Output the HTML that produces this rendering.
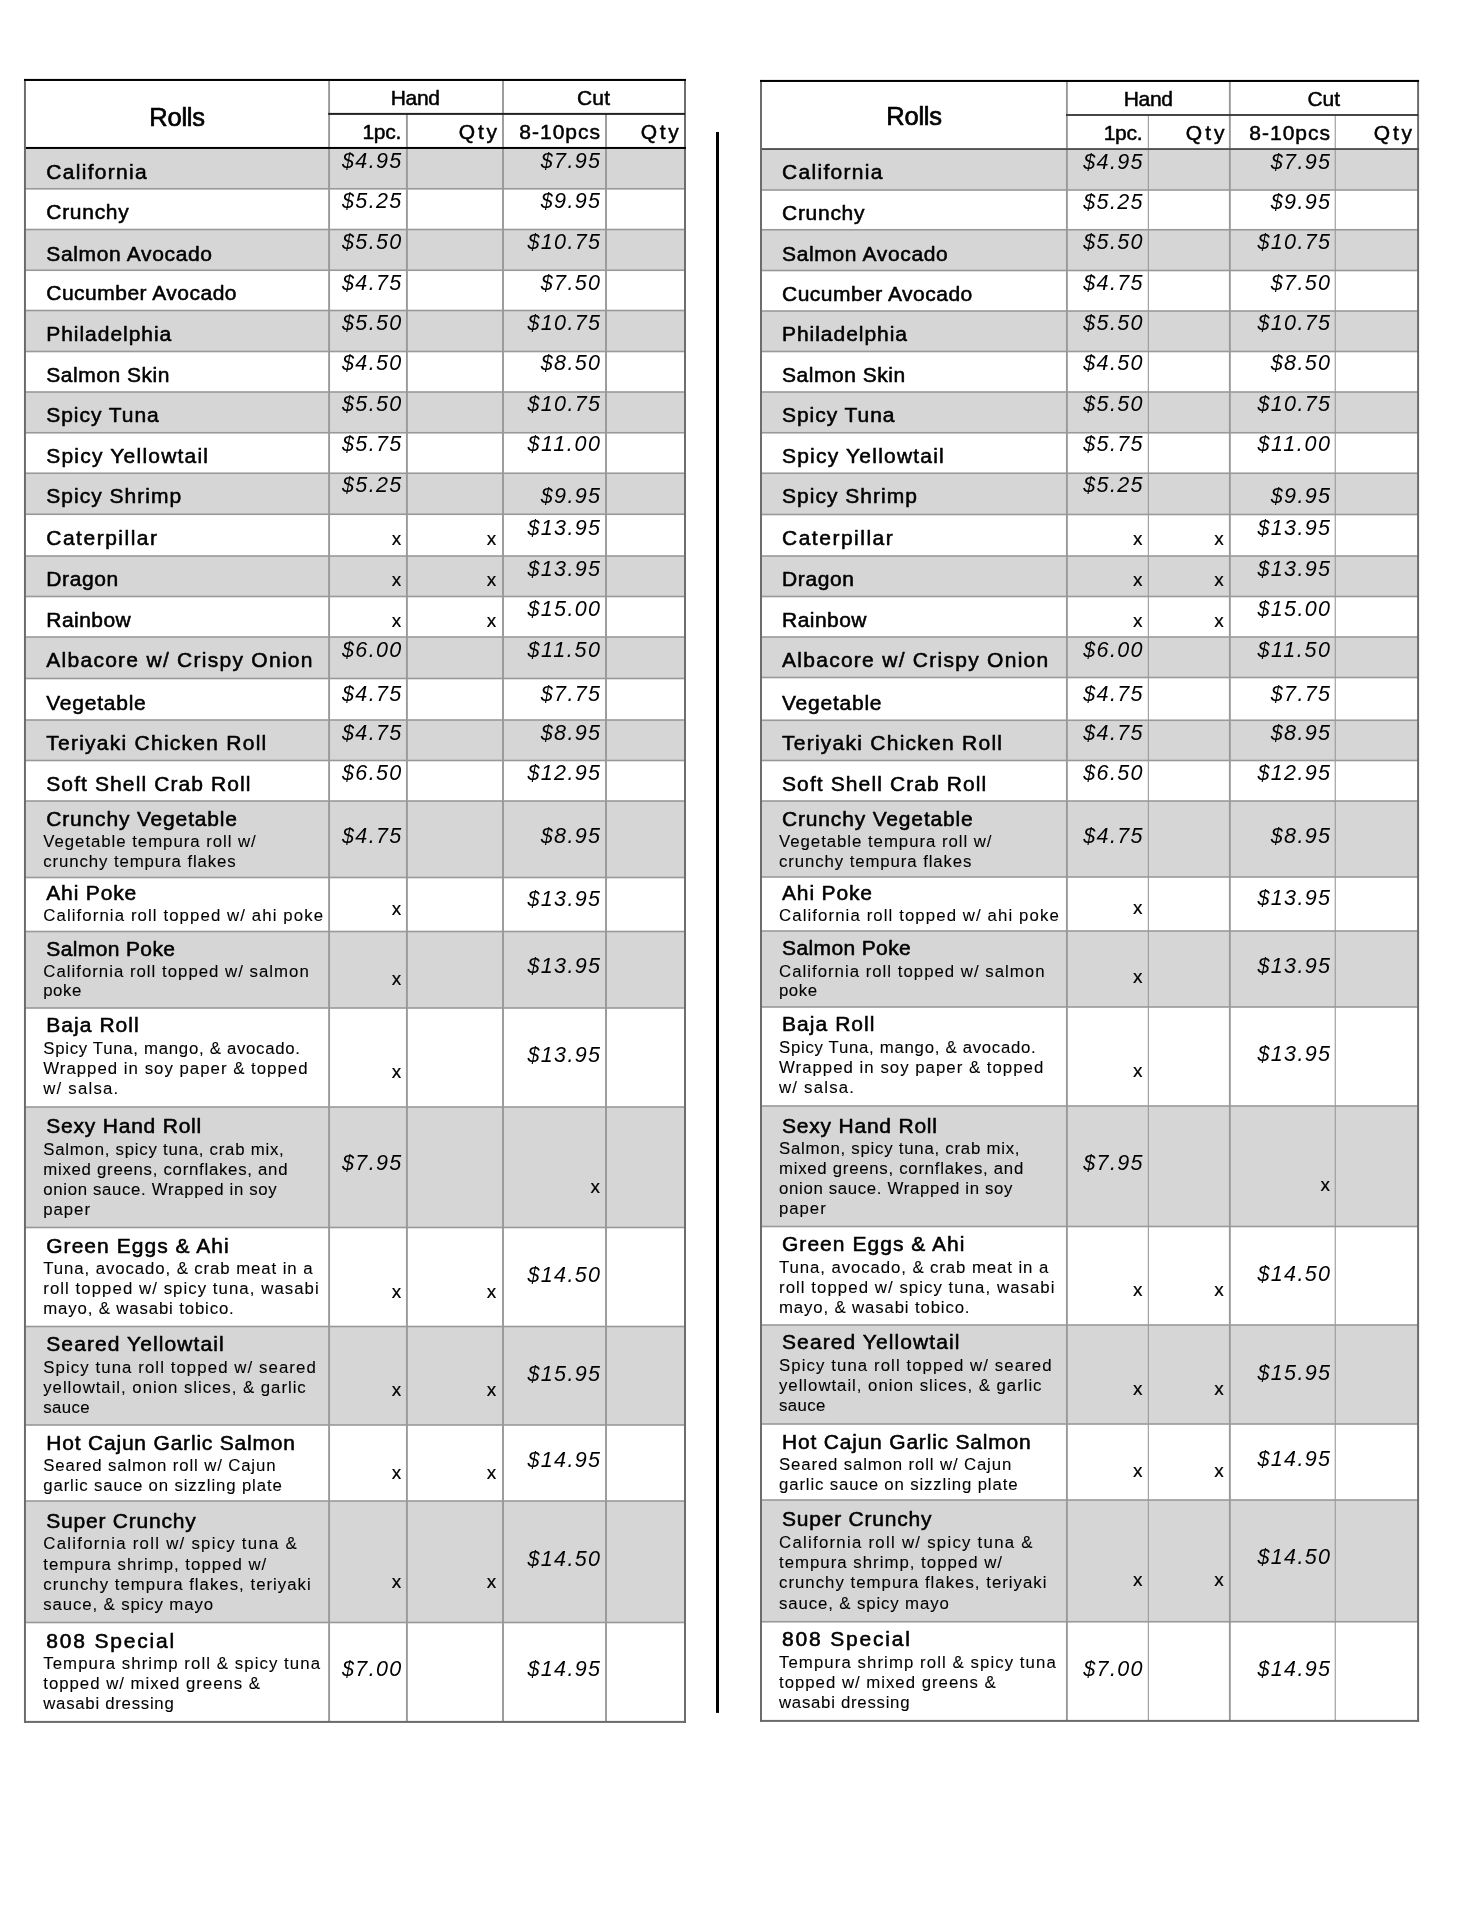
<!DOCTYPE html>
<html lang="en">
<head>
<meta charset="utf-8">
<title>Rolls order sheet</title>
<style>
html,body{margin:0;padding:0;background:#fff;}
body{width:1484px;height:1920px;overflow:hidden;}
svg{display:block;filter:grayscale(1);}
text{font-family:"Liberation Sans",sans-serif;fill:#000;white-space:pre;}
text{stroke:#000;stroke-linejoin:round;}
.nm{font-size:21.0px;stroke-width:0.55px;}
.ds{font-size:16.8px;stroke-width:0.1px;}
.pr{font-size:21.5px;font-style:italic;stroke-width:0;}
.xm{font-size:19.0px;stroke-width:0.2px;}
.hd{font-size:21.0px;stroke-width:0.5px;}
.rolls{font-size:25.5px;stroke-width:0.7px;}
</style>
</head>
<body>
<svg width="1484" height="1920" viewBox="0 0 1484 1920">
<rect x="0" y="0" width="1484" height="1920" fill="#fff"/>
<g>
<rect x="24.95" y="147.95" width="660.05" height="40.85" fill="#d6d6d6"/>
<rect x="24.95" y="229.50" width="660.05" height="40.75" fill="#d6d6d6"/>
<rect x="24.95" y="310.50" width="660.05" height="41.00" fill="#d6d6d6"/>
<rect x="24.95" y="392.00" width="660.05" height="40.75" fill="#d6d6d6"/>
<rect x="24.95" y="473.25" width="660.05" height="41.00" fill="#d6d6d6"/>
<rect x="24.95" y="556.00" width="660.05" height="40.50" fill="#d6d6d6"/>
<rect x="24.95" y="637.00" width="660.05" height="41.50" fill="#d6d6d6"/>
<rect x="24.95" y="720.00" width="660.05" height="40.50" fill="#d6d6d6"/>
<rect x="24.95" y="801.00" width="660.05" height="76.50" fill="#d6d6d6"/>
<rect x="24.95" y="931.50" width="660.05" height="76.50" fill="#d6d6d6"/>
<rect x="24.95" y="1107.00" width="660.05" height="120.50" fill="#d6d6d6"/>
<rect x="24.95" y="1326.50" width="660.05" height="98.50" fill="#d6d6d6"/>
<rect x="24.95" y="1501.00" width="660.05" height="121.50" fill="#d6d6d6"/>
<rect x="24.95" y="188.00" width="660.05" height="1.60" fill="#999999"/>
<rect x="24.95" y="228.70" width="660.05" height="1.60" fill="#999999"/>
<rect x="24.95" y="269.45" width="660.05" height="1.60" fill="#999999"/>
<rect x="24.95" y="309.70" width="660.05" height="1.60" fill="#999999"/>
<rect x="24.95" y="350.70" width="660.05" height="1.60" fill="#999999"/>
<rect x="24.95" y="391.20" width="660.05" height="1.60" fill="#999999"/>
<rect x="24.95" y="431.95" width="660.05" height="1.60" fill="#999999"/>
<rect x="24.95" y="472.45" width="660.05" height="1.60" fill="#999999"/>
<rect x="24.95" y="513.45" width="660.05" height="1.60" fill="#999999"/>
<rect x="24.95" y="555.20" width="660.05" height="1.60" fill="#999999"/>
<rect x="24.95" y="595.70" width="660.05" height="1.60" fill="#999999"/>
<rect x="24.95" y="636.20" width="660.05" height="1.60" fill="#999999"/>
<rect x="24.95" y="677.70" width="660.05" height="1.60" fill="#999999"/>
<rect x="24.95" y="719.20" width="660.05" height="1.60" fill="#999999"/>
<rect x="24.95" y="759.70" width="660.05" height="1.60" fill="#999999"/>
<rect x="24.95" y="800.20" width="660.05" height="1.60" fill="#999999"/>
<rect x="24.95" y="876.70" width="660.05" height="1.60" fill="#999999"/>
<rect x="24.95" y="930.70" width="660.05" height="1.60" fill="#999999"/>
<rect x="24.95" y="1007.20" width="660.05" height="1.60" fill="#999999"/>
<rect x="24.95" y="1106.20" width="660.05" height="1.60" fill="#999999"/>
<rect x="24.95" y="1226.70" width="660.05" height="1.60" fill="#999999"/>
<rect x="24.95" y="1325.70" width="660.05" height="1.60" fill="#999999"/>
<rect x="24.95" y="1424.20" width="660.05" height="1.60" fill="#999999"/>
<rect x="24.95" y="1500.20" width="660.05" height="1.60" fill="#999999"/>
<rect x="24.95" y="1621.70" width="660.05" height="1.60" fill="#999999"/>
<rect x="328.15" y="79.95" width="1.90" height="1641.95" fill="#999999"/>
<rect x="405.95" y="113.90" width="1.90" height="1608.00" fill="#999999"/>
<rect x="502.05" y="79.95" width="1.90" height="1641.95" fill="#999999"/>
<rect x="605.05" y="113.90" width="1.90" height="1608.00" fill="#999999"/>
<rect x="23.97" y="78.95" width="1.95" height="1643.95" fill="#6a6a6a"/>
<rect x="684.02" y="78.95" width="1.95" height="1643.95" fill="#6a6a6a"/>
<rect x="24.00" y="1720.90" width="661.95" height="2.00" fill="#6a6a6a"/>
<rect x="24.00" y="78.92" width="661.95" height="2.05" fill="#000"/>
<rect x="328.20" y="112.90" width="356.80" height="2.00" fill="#222"/>
<rect x="25.85" y="146.95" width="660.10" height="2.00" fill="#000"/>
</g>
<g>
<text class="rolls" x="149.25" y="125.50" textLength="55.75">Rolls</text>
<text class="hd" x="390.75" y="105.00" textLength="49.25">Hand</text>
<text class="hd" x="577.00" y="105.00" textLength="33.00">Cut</text>
<text class="hd" x="362.50" y="138.75" textLength="38.75">1pc.</text>
<text class="hd" x="458.75" y="138.75" textLength="38.25">Qty</text>
<text class="hd" x="519.25" y="138.75" textLength="80.75">8-10pcs</text>
<text class="hd" x="640.75" y="138.75" textLength="38.00">Qty</text>
</g>
<g>
<text class="nm" x="46.25" y="179.25" textLength="100.50">California</text>
<text class="pr" x="342.00" y="167.50" textLength="59.25">$4.95</text>
<text class="pr" x="540.75" y="167.50" textLength="59.25">$7.95</text>
</g>
<g>
<text class="nm" x="46.25" y="219.25" textLength="82.50">Crunchy</text>
<text class="pr" x="342.00" y="208.25" textLength="59.25">$5.25</text>
<text class="pr" x="540.75" y="208.25" textLength="59.25">$9.95</text>
</g>
<g>
<text class="nm" x="46.25" y="260.50" textLength="165.75">Salmon Avocado</text>
<text class="pr" x="342.00" y="248.75" textLength="59.25">$5.50</text>
<text class="pr" x="527.50" y="248.75" textLength="72.50">$10.75</text>
</g>
<g>
<text class="nm" x="46.25" y="300.00" textLength="190.25">Cucumber Avocado</text>
<text class="pr" x="342.00" y="289.50" textLength="59.25">$4.75</text>
<text class="pr" x="540.75" y="289.50" textLength="59.25">$7.50</text>
</g>
<g>
<text class="nm" x="46.25" y="340.75" textLength="125.00">Philadelphia</text>
<text class="pr" x="342.00" y="330.00" textLength="59.25">$5.50</text>
<text class="pr" x="527.50" y="330.00" textLength="72.50">$10.75</text>
</g>
<g>
<text class="nm" x="46.25" y="381.75" textLength="123.25">Salmon Skin</text>
<text class="pr" x="342.00" y="370.00" textLength="59.25">$4.50</text>
<text class="pr" x="540.75" y="370.00" textLength="59.25">$8.50</text>
</g>
<g>
<text class="nm" x="46.25" y="422.00" textLength="112.50">Spicy Tuna</text>
<text class="pr" x="342.00" y="410.75" textLength="59.25">$5.50</text>
<text class="pr" x="527.50" y="410.75" textLength="72.50">$10.75</text>
</g>
<g>
<text class="nm" x="46.25" y="462.50" textLength="161.75">Spicy Yellowtail</text>
<text class="pr" x="342.00" y="451.25" textLength="59.25">$5.75</text>
<text class="pr" x="527.50" y="451.25" textLength="72.50">$11.00</text>
</g>
<g>
<text class="nm" x="46.25" y="503.00" textLength="135.00">Spicy Shrimp</text>
<text class="pr" x="342.00" y="492.00" textLength="59.25">$5.25</text>
<text class="pr" x="540.75" y="502.50" textLength="59.25">$9.95</text>
</g>
<g>
<text class="nm" x="46.25" y="544.75" textLength="110.75">Caterpillar</text>
<text class="xm" x="391.75" y="544.50">x</text>
<text class="xm" x="486.75" y="544.50">x</text>
<text class="pr" x="527.50" y="534.50" textLength="72.50">$13.95</text>
</g>
<g>
<text class="nm" x="46.25" y="585.75" textLength="72.00">Dragon</text>
<text class="xm" x="391.75" y="585.75">x</text>
<text class="xm" x="486.75" y="585.75">x</text>
<text class="pr" x="527.50" y="575.50" textLength="72.50">$13.95</text>
</g>
<g>
<text class="nm" x="46.25" y="626.50" textLength="84.50">Rainbow</text>
<text class="xm" x="391.75" y="626.50">x</text>
<text class="xm" x="486.75" y="626.50">x</text>
<text class="pr" x="527.50" y="615.50" textLength="72.50">$15.00</text>
</g>
<g>
<text class="nm" x="46.25" y="667.00" textLength="266.25">Albacore w/ Crispy Onion</text>
<text class="pr" x="342.00" y="657.00" textLength="59.25">$6.00</text>
<text class="pr" x="527.50" y="657.00" textLength="72.50">$11.50</text>
</g>
<g>
<text class="nm" x="46.25" y="710.00" textLength="99.50">Vegetable</text>
<text class="pr" x="342.00" y="700.75" textLength="59.25">$4.75</text>
<text class="pr" x="540.75" y="700.75" textLength="59.25">$7.75</text>
</g>
<g>
<text class="nm" x="46.25" y="750.00" textLength="220.00">Teriyaki Chicken Roll</text>
<text class="pr" x="342.00" y="740.00" textLength="59.25">$4.75</text>
<text class="pr" x="540.75" y="740.00" textLength="59.25">$8.95</text>
</g>
<g>
<text class="nm" x="46.25" y="790.50" textLength="204.25">Soft Shell Crab Roll</text>
<text class="pr" x="342.00" y="779.50" textLength="59.25">$6.50</text>
<text class="pr" x="527.50" y="779.50" textLength="72.50">$12.95</text>
</g>
<g>
<text class="nm" x="46.25" y="825.75" textLength="190.75">Crunchy Vegetable</text>
<text class="ds" x="43.25" y="847.00" textLength="212.50">Vegetable tempura roll w/</text>
<text class="ds" x="43.25" y="866.50" textLength="192.50">crunchy tempura flakes</text>
<text class="pr" x="342.00" y="842.50" textLength="59.25">$4.75</text>
<text class="pr" x="540.75" y="842.50" textLength="59.25">$8.95</text>
</g>
<g>
<text class="nm" x="46.25" y="899.50" textLength="90.00">Ahi Poke</text>
<text class="ds" x="43.25" y="920.75" textLength="279.75">California roll topped w/ ahi poke</text>
<text class="xm" x="391.75" y="914.50">x</text>
<text class="pr" x="527.50" y="905.50" textLength="72.50">$13.95</text>
</g>
<g>
<text class="nm" x="46.25" y="955.50" textLength="128.75">Salmon Poke</text>
<text class="ds" x="43.25" y="976.50" textLength="265.50">California roll topped w/ salmon</text>
<text class="ds" x="43.25" y="996.25" textLength="38.00">poke</text>
<text class="xm" x="391.75" y="984.50">x</text>
<text class="pr" x="527.50" y="972.50" textLength="72.50">$13.95</text>
</g>
<g>
<text class="nm" x="46.25" y="1032.00" textLength="92.50">Baja Roll</text>
<text class="ds" x="43.25" y="1053.75" textLength="256.75">Spicy Tuna, mango, &amp; avocado.</text>
<text class="ds" x="43.25" y="1073.75" textLength="264.25">Wrapped in soy paper &amp; topped</text>
<text class="ds" x="43.25" y="1093.75" textLength="75.00">w/ salsa.</text>
<text class="xm" x="391.75" y="1077.50">x</text>
<text class="pr" x="527.50" y="1062.00" textLength="72.50">$13.95</text>
</g>
<g>
<text class="nm" x="46.25" y="1133.25" textLength="155.00">Sexy Hand Roll</text>
<text class="ds" x="43.25" y="1155.00" textLength="240.50">Salmon, spicy tuna, crab mix,</text>
<text class="ds" x="43.25" y="1175.00" textLength="244.25">mixed greens, cornflakes, and</text>
<text class="ds" x="43.25" y="1195.00" textLength="233.50">onion sauce. Wrapped in soy</text>
<text class="ds" x="43.25" y="1215.00" textLength="46.75">paper</text>
<text class="pr" x="342.00" y="1170.00" textLength="59.25">$7.95</text>
<text class="xm" x="590.50" y="1192.50">x</text>
</g>
<g>
<text class="nm" x="46.25" y="1252.50" textLength="182.50">Green Eggs &amp; Ahi</text>
<text class="ds" x="43.25" y="1274.25" textLength="269.25">Tuna, avocado, &amp; crab meat in a</text>
<text class="ds" x="43.25" y="1294.25" textLength="275.50">roll topped w/ spicy tuna, wasabi</text>
<text class="ds" x="43.25" y="1314.25" textLength="190.50">mayo, &amp; wasabi tobico.</text>
<text class="xm" x="391.75" y="1297.50">x</text>
<text class="xm" x="486.75" y="1297.50">x</text>
<text class="pr" x="527.50" y="1281.75" textLength="72.50">$14.50</text>
</g>
<g>
<text class="nm" x="46.25" y="1351.25" textLength="177.50">Seared Yellowtail</text>
<text class="ds" x="43.25" y="1372.50" textLength="272.50">Spicy tuna roll topped w/ seared</text>
<text class="ds" x="43.25" y="1393.00" textLength="262.50">yellowtail, onion slices, &amp; garlic</text>
<text class="ds" x="43.25" y="1413.00" textLength="46.25">sauce</text>
<text class="xm" x="391.75" y="1395.50">x</text>
<text class="xm" x="486.75" y="1395.50">x</text>
<text class="pr" x="527.50" y="1380.75" textLength="72.50">$15.95</text>
</g>
<g>
<text class="nm" x="46.25" y="1450.00" textLength="248.75">Hot Cajun Garlic Salmon</text>
<text class="ds" x="43.25" y="1471.25" textLength="232.25">Seared salmon roll w/ Cajun</text>
<text class="ds" x="43.25" y="1491.25" textLength="238.50">garlic sauce on sizzling plate</text>
<text class="xm" x="391.75" y="1478.75">x</text>
<text class="xm" x="486.75" y="1478.75">x</text>
<text class="pr" x="527.50" y="1466.75" textLength="72.50">$14.95</text>
</g>
<g>
<text class="nm" x="46.25" y="1528.25" textLength="149.50">Super Crunchy</text>
<text class="ds" x="43.25" y="1549.25" textLength="253.50">California roll w/ spicy tuna &amp;</text>
<text class="ds" x="43.25" y="1570.00" textLength="223.00">tempura shrimp, topped w/</text>
<text class="ds" x="43.25" y="1590.00" textLength="267.50">crunchy tempura flakes, teriyaki</text>
<text class="ds" x="43.25" y="1610.00" textLength="169.75">sauce, &amp; spicy mayo</text>
<text class="xm" x="391.75" y="1588.00">x</text>
<text class="xm" x="486.75" y="1588.00">x</text>
<text class="pr" x="527.50" y="1565.50" textLength="72.50">$14.50</text>
</g>
<g>
<text class="nm" x="46.25" y="1647.50" textLength="128.00">808 Special</text>
<text class="ds" x="43.25" y="1669.25" textLength="276.75">Tempura shrimp roll &amp; spicy tuna</text>
<text class="ds" x="43.25" y="1689.25" textLength="216.75">topped w/ mixed greens &amp;</text>
<text class="ds" x="43.25" y="1709.25" textLength="130.50">wasabi dressing</text>
<text class="pr" x="342.00" y="1676.25" textLength="59.25">$7.00</text>
<text class="pr" x="527.50" y="1676.25" textLength="72.50">$14.95</text>
</g>
<g>
<rect x="761.00" y="149.05" width="657.10" height="40.95" fill="#d6d6d6"/>
<rect x="761.00" y="229.75" width="657.10" height="40.75" fill="#d6d6d6"/>
<rect x="761.00" y="311.00" width="657.10" height="40.50" fill="#d6d6d6"/>
<rect x="761.00" y="392.00" width="657.10" height="40.75" fill="#d6d6d6"/>
<rect x="761.00" y="473.25" width="657.10" height="41.25" fill="#d6d6d6"/>
<rect x="761.00" y="556.00" width="657.10" height="40.50" fill="#d6d6d6"/>
<rect x="761.00" y="637.00" width="657.10" height="40.50" fill="#d6d6d6"/>
<rect x="761.00" y="720.25" width="657.10" height="40.25" fill="#d6d6d6"/>
<rect x="761.00" y="801.00" width="657.10" height="76.00" fill="#d6d6d6"/>
<rect x="761.00" y="931.00" width="657.10" height="76.00" fill="#d6d6d6"/>
<rect x="761.00" y="1106.00" width="657.10" height="120.50" fill="#d6d6d6"/>
<rect x="761.00" y="1325.00" width="657.10" height="99.00" fill="#d6d6d6"/>
<rect x="761.00" y="1500.00" width="657.10" height="121.75" fill="#d6d6d6"/>
<rect x="761.00" y="189.20" width="657.10" height="1.60" fill="#999999"/>
<rect x="761.00" y="228.95" width="657.10" height="1.60" fill="#999999"/>
<rect x="761.00" y="269.70" width="657.10" height="1.60" fill="#999999"/>
<rect x="761.00" y="310.20" width="657.10" height="1.60" fill="#999999"/>
<rect x="761.00" y="350.70" width="657.10" height="1.60" fill="#999999"/>
<rect x="761.00" y="391.20" width="657.10" height="1.60" fill="#999999"/>
<rect x="761.00" y="431.95" width="657.10" height="1.60" fill="#999999"/>
<rect x="761.00" y="472.45" width="657.10" height="1.60" fill="#999999"/>
<rect x="761.00" y="513.70" width="657.10" height="1.60" fill="#999999"/>
<rect x="761.00" y="555.20" width="657.10" height="1.60" fill="#999999"/>
<rect x="761.00" y="595.70" width="657.10" height="1.60" fill="#999999"/>
<rect x="761.00" y="636.20" width="657.10" height="1.60" fill="#999999"/>
<rect x="761.00" y="676.70" width="657.10" height="1.60" fill="#999999"/>
<rect x="761.00" y="719.45" width="657.10" height="1.60" fill="#999999"/>
<rect x="761.00" y="759.70" width="657.10" height="1.60" fill="#999999"/>
<rect x="761.00" y="800.20" width="657.10" height="1.60" fill="#999999"/>
<rect x="761.00" y="876.20" width="657.10" height="1.60" fill="#999999"/>
<rect x="761.00" y="930.20" width="657.10" height="1.60" fill="#999999"/>
<rect x="761.00" y="1006.20" width="657.10" height="1.60" fill="#999999"/>
<rect x="761.00" y="1105.20" width="657.10" height="1.60" fill="#999999"/>
<rect x="761.00" y="1225.70" width="657.10" height="1.60" fill="#999999"/>
<rect x="761.00" y="1324.20" width="657.10" height="1.60" fill="#999999"/>
<rect x="761.00" y="1423.20" width="657.10" height="1.60" fill="#999999"/>
<rect x="761.00" y="1499.20" width="657.10" height="1.60" fill="#999999"/>
<rect x="761.00" y="1620.95" width="657.10" height="1.60" fill="#999999"/>
<rect x="1065.95" y="80.95" width="1.90" height="1639.95" fill="#999999"/>
<rect x="1147.80" y="115.00" width="1.10" height="1605.90" fill="#999999"/>
<rect x="1228.90" y="80.95" width="1.90" height="1639.95" fill="#999999"/>
<rect x="1334.70" y="115.00" width="1.10" height="1605.90" fill="#999999"/>
<rect x="760.02" y="79.95" width="1.95" height="1641.95" fill="#6a6a6a"/>
<rect x="1417.12" y="79.95" width="1.95" height="1641.95" fill="#6a6a6a"/>
<rect x="760.05" y="1719.90" width="659.00" height="2.00" fill="#6a6a6a"/>
<rect x="760.05" y="79.92" width="659.00" height="2.05" fill="#000"/>
<rect x="1066.00" y="114.10" width="352.10" height="1.80" fill="#333"/>
<rect x="761.90" y="148.10" width="657.15" height="1.90" fill="#505050"/>
</g>
<g>
<text class="rolls" x="886.25" y="125.00" textLength="55.75">Rolls</text>
<text class="hd" x="1123.75" y="106.25" textLength="49.25">Hand</text>
<text class="hd" x="1307.50" y="106.25" textLength="32.50">Cut</text>
<text class="hd" x="1103.75" y="139.50" textLength="38.75">1pc.</text>
<text class="hd" x="1185.75" y="139.50" textLength="38.75">Qty</text>
<text class="hd" x="1249.25" y="139.50" textLength="80.75">8-10pcs</text>
<text class="hd" x="1373.75" y="139.50" textLength="38.25">Qty</text>
</g>
<g>
<text class="nm" x="782.00" y="179.25" textLength="100.50">California</text>
<text class="pr" x="1083.25" y="168.50" textLength="59.25">$4.95</text>
<text class="pr" x="1270.75" y="168.50" textLength="59.25">$7.95</text>
</g>
<g>
<text class="nm" x="782.00" y="219.50" textLength="82.50">Crunchy</text>
<text class="pr" x="1083.25" y="208.75" textLength="59.25">$5.25</text>
<text class="pr" x="1270.75" y="208.75" textLength="59.25">$9.95</text>
</g>
<g>
<text class="nm" x="782.00" y="260.50" textLength="165.75">Salmon Avocado</text>
<text class="pr" x="1083.25" y="249.25" textLength="59.25">$5.50</text>
<text class="pr" x="1257.50" y="249.25" textLength="72.50">$10.75</text>
</g>
<g>
<text class="nm" x="782.00" y="300.50" textLength="190.25">Cucumber Avocado</text>
<text class="pr" x="1083.25" y="289.50" textLength="59.25">$4.75</text>
<text class="pr" x="1270.75" y="289.50" textLength="59.25">$7.50</text>
</g>
<g>
<text class="nm" x="782.00" y="340.75" textLength="125.00">Philadelphia</text>
<text class="pr" x="1083.25" y="330.00" textLength="59.25">$5.50</text>
<text class="pr" x="1257.50" y="330.00" textLength="72.50">$10.75</text>
</g>
<g>
<text class="nm" x="782.00" y="381.75" textLength="123.25">Salmon Skin</text>
<text class="pr" x="1083.25" y="370.00" textLength="59.25">$4.50</text>
<text class="pr" x="1270.75" y="370.00" textLength="59.25">$8.50</text>
</g>
<g>
<text class="nm" x="782.00" y="422.00" textLength="112.50">Spicy Tuna</text>
<text class="pr" x="1083.25" y="410.75" textLength="59.25">$5.50</text>
<text class="pr" x="1257.50" y="410.75" textLength="72.50">$10.75</text>
</g>
<g>
<text class="nm" x="782.00" y="462.50" textLength="161.75">Spicy Yellowtail</text>
<text class="pr" x="1083.25" y="451.25" textLength="59.25">$5.75</text>
<text class="pr" x="1257.50" y="451.25" textLength="72.50">$11.00</text>
</g>
<g>
<text class="nm" x="782.00" y="503.00" textLength="135.00">Spicy Shrimp</text>
<text class="pr" x="1083.25" y="492.00" textLength="59.25">$5.25</text>
<text class="pr" x="1270.75" y="502.50" textLength="59.25">$9.95</text>
</g>
<g>
<text class="nm" x="782.00" y="544.50" textLength="110.75">Caterpillar</text>
<text class="xm" x="1133.00" y="544.50">x</text>
<text class="xm" x="1214.25" y="544.50">x</text>
<text class="pr" x="1257.50" y="534.50" textLength="72.50">$13.95</text>
</g>
<g>
<text class="nm" x="782.00" y="585.75" textLength="72.00">Dragon</text>
<text class="xm" x="1133.00" y="585.75">x</text>
<text class="xm" x="1214.25" y="585.75">x</text>
<text class="pr" x="1257.50" y="575.50" textLength="72.50">$13.95</text>
</g>
<g>
<text class="nm" x="782.00" y="626.50" textLength="84.50">Rainbow</text>
<text class="xm" x="1133.00" y="626.50">x</text>
<text class="xm" x="1214.25" y="626.50">x</text>
<text class="pr" x="1257.50" y="615.50" textLength="72.50">$15.00</text>
</g>
<g>
<text class="nm" x="782.00" y="667.00" textLength="266.25">Albacore w/ Crispy Onion</text>
<text class="pr" x="1083.25" y="657.00" textLength="59.25">$6.00</text>
<text class="pr" x="1257.50" y="657.00" textLength="72.50">$11.50</text>
</g>
<g>
<text class="nm" x="782.00" y="710.00" textLength="99.50">Vegetable</text>
<text class="pr" x="1083.25" y="700.75" textLength="59.25">$4.75</text>
<text class="pr" x="1270.75" y="700.75" textLength="59.25">$7.75</text>
</g>
<g>
<text class="nm" x="782.00" y="750.00" textLength="220.00">Teriyaki Chicken Roll</text>
<text class="pr" x="1083.25" y="740.00" textLength="59.25">$4.75</text>
<text class="pr" x="1270.75" y="740.00" textLength="59.25">$8.95</text>
</g>
<g>
<text class="nm" x="782.00" y="790.50" textLength="204.25">Soft Shell Crab Roll</text>
<text class="pr" x="1083.25" y="779.50" textLength="59.25">$6.50</text>
<text class="pr" x="1257.50" y="779.50" textLength="72.50">$12.95</text>
</g>
<g>
<text class="nm" x="782.00" y="825.75" textLength="190.75">Crunchy Vegetable</text>
<text class="ds" x="779.00" y="847.00" textLength="212.50">Vegetable tempura roll w/</text>
<text class="ds" x="779.00" y="866.50" textLength="192.50">crunchy tempura flakes</text>
<text class="pr" x="1083.25" y="842.50" textLength="59.25">$4.75</text>
<text class="pr" x="1270.75" y="842.50" textLength="59.25">$8.95</text>
</g>
<g>
<text class="nm" x="782.00" y="899.50" textLength="90.00">Ahi Poke</text>
<text class="ds" x="779.00" y="920.75" textLength="279.75">California roll topped w/ ahi poke</text>
<text class="xm" x="1133.00" y="914.00">x</text>
<text class="pr" x="1257.50" y="905.00" textLength="72.50">$13.95</text>
</g>
<g>
<text class="nm" x="782.00" y="955.25" textLength="128.75">Salmon Poke</text>
<text class="ds" x="779.00" y="976.50" textLength="265.50">California roll topped w/ salmon</text>
<text class="ds" x="779.00" y="996.25" textLength="38.00">poke</text>
<text class="xm" x="1133.00" y="983.25">x</text>
<text class="pr" x="1257.50" y="972.50" textLength="72.50">$13.95</text>
</g>
<g>
<text class="nm" x="782.00" y="1031.25" textLength="92.50">Baja Roll</text>
<text class="ds" x="779.00" y="1053.00" textLength="256.75">Spicy Tuna, mango, &amp; avocado.</text>
<text class="ds" x="779.00" y="1073.00" textLength="264.25">Wrapped in soy paper &amp; topped</text>
<text class="ds" x="779.00" y="1093.00" textLength="75.00">w/ salsa.</text>
<text class="xm" x="1133.00" y="1076.75">x</text>
<text class="pr" x="1257.50" y="1060.75" textLength="72.50">$13.95</text>
</g>
<g>
<text class="nm" x="782.00" y="1132.50" textLength="155.00">Sexy Hand Roll</text>
<text class="ds" x="779.00" y="1154.25" textLength="240.50">Salmon, spicy tuna, crab mix,</text>
<text class="ds" x="779.00" y="1174.25" textLength="244.25">mixed greens, cornflakes, and</text>
<text class="ds" x="779.00" y="1194.25" textLength="233.50">onion sauce. Wrapped in soy</text>
<text class="ds" x="779.00" y="1214.25" textLength="46.75">paper</text>
<text class="pr" x="1083.25" y="1169.50" textLength="59.25">$7.95</text>
<text class="xm" x="1320.50" y="1191.25">x</text>
</g>
<g>
<text class="nm" x="782.00" y="1251.25" textLength="182.50">Green Eggs &amp; Ahi</text>
<text class="ds" x="779.00" y="1273.00" textLength="269.25">Tuna, avocado, &amp; crab meat in a</text>
<text class="ds" x="779.00" y="1293.00" textLength="275.50">roll topped w/ spicy tuna, wasabi</text>
<text class="ds" x="779.00" y="1313.00" textLength="190.50">mayo, &amp; wasabi tobico.</text>
<text class="xm" x="1133.00" y="1296.25">x</text>
<text class="xm" x="1214.25" y="1296.25">x</text>
<text class="pr" x="1257.50" y="1280.50" textLength="72.50">$14.50</text>
</g>
<g>
<text class="nm" x="782.00" y="1349.25" textLength="177.50">Seared Yellowtail</text>
<text class="ds" x="779.00" y="1370.75" textLength="272.50">Spicy tuna roll topped w/ seared</text>
<text class="ds" x="779.00" y="1391.25" textLength="262.50">yellowtail, onion slices, &amp; garlic</text>
<text class="ds" x="779.00" y="1411.25" textLength="46.25">sauce</text>
<text class="xm" x="1133.00" y="1394.50">x</text>
<text class="xm" x="1214.25" y="1394.50">x</text>
<text class="pr" x="1257.50" y="1379.50" textLength="72.50">$15.95</text>
</g>
<g>
<text class="nm" x="782.00" y="1448.75" textLength="248.75">Hot Cajun Garlic Salmon</text>
<text class="ds" x="779.00" y="1470.00" textLength="232.25">Seared salmon roll w/ Cajun</text>
<text class="ds" x="779.00" y="1490.00" textLength="238.50">garlic sauce on sizzling plate</text>
<text class="xm" x="1133.00" y="1477.00">x</text>
<text class="xm" x="1214.25" y="1477.00">x</text>
<text class="pr" x="1257.50" y="1465.75" textLength="72.50">$14.95</text>
</g>
<g>
<text class="nm" x="782.00" y="1526.25" textLength="149.50">Super Crunchy</text>
<text class="ds" x="779.00" y="1547.50" textLength="253.50">California roll w/ spicy tuna &amp;</text>
<text class="ds" x="779.00" y="1568.00" textLength="223.00">tempura shrimp, topped w/</text>
<text class="ds" x="779.00" y="1588.00" textLength="267.50">crunchy tempura flakes, teriyaki</text>
<text class="ds" x="779.00" y="1608.50" textLength="169.75">sauce, &amp; spicy mayo</text>
<text class="xm" x="1133.00" y="1585.75">x</text>
<text class="xm" x="1214.25" y="1585.75">x</text>
<text class="pr" x="1257.50" y="1564.25" textLength="72.50">$14.50</text>
</g>
<g>
<text class="nm" x="782.00" y="1646.25" textLength="128.00">808 Special</text>
<text class="ds" x="779.00" y="1667.50" textLength="276.75">Tempura shrimp roll &amp; spicy tuna</text>
<text class="ds" x="779.00" y="1688.00" textLength="216.75">topped w/ mixed greens &amp;</text>
<text class="ds" x="779.00" y="1708.00" textLength="130.50">wasabi dressing</text>
<text class="pr" x="1083.25" y="1675.50" textLength="59.25">$7.00</text>
<text class="pr" x="1257.50" y="1675.50" textLength="72.50">$14.95</text>
</g>
<rect x="716.00" y="132.00" width="3.00" height="1580.90" fill="#000"/>
</svg>
</body>
</html>
